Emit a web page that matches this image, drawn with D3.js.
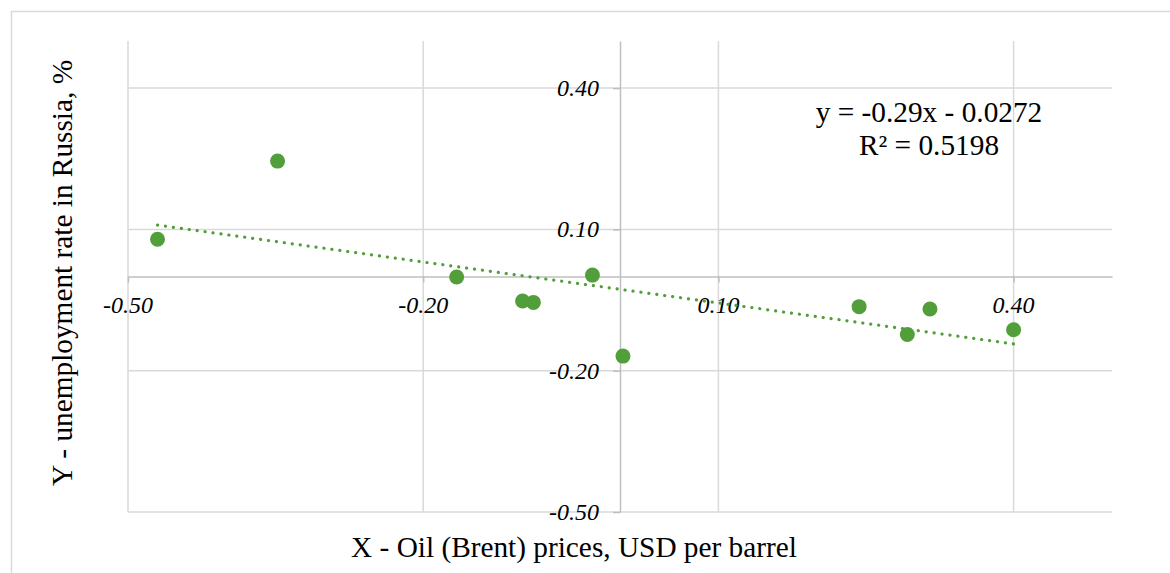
<!DOCTYPE html>
<html>
<head>
<meta charset="utf-8">
<script src="https://cdn.jsdelivr.net/npm/d3@7"></script>
<style>
  html, body { margin: 0; padding: 0; background: #ffffff; }
  svg { display: block; }
</style>
</head>
<body>
<svg id="chart" width="1170" height="573"></svg>
<script>
// Oil price change (x) vs unemployment change (y), one point per year
const oilChange = [-0.470, -0.348, -0.166, -0.099, -0.088, -0.028, 0.003, 0.243, 0.292, 0.315, 0.400];
const unempChange = [0.079, 0.245, -0.001, -0.052, -0.055, 0.003, -0.169, -0.064, -0.123, -0.069, -0.113];

// Linear trend shown on the chart
const trendSlope = -0.29;
const trendIntercept = -0.0272;
const trendR2 = 0.5198;

const xTicks = [-0.5, -0.2, 0.1, 0.4];
const yTicks = [0.4, 0.1, -0.2, -0.5];

const xTitle = "X - Oil (Brent) prices, USD per barrel";
const yTitle = "Y - unemployment rate in Russia, %";

const serif = '"Liberation Serif"';

const svg = d3.select("#chart");
const W = 1170, H = 573;
const margin = { left: 128, top: 41, right: W - 1112, bottom: H - 512 };
const innerW = W - margin.left - margin.right;
const innerH = H - margin.top - margin.bottom;

const green = "#529e3a";
const gridColor = "#d9d9d9";
const axisColor = "#bfbfbf";

// outer chart frame
svg.append("rect")
  .attr("x", 11.5).attr("y", 11.5)
  .attr("width", 1200).attr("height", 700)
  .attr("fill", "#fff").attr("stroke", "#d9d9d9").attr("stroke-width", 1.5);

const g = svg.append("g").attr("transform", `translate(${margin.left},${margin.top})`);

const x = d3.scaleLinear().domain([-0.5, 0.5]).range([0, innerW]);
const y = d3.scaleLinear().domain([-0.5, 0.5]).range([innerH, 0]);

// gridlines
g.append("g").attr("class", "vgrid")
  .selectAll("line").data(xTicks).join("line")
  .attr("x1", d => x(d)).attr("x2", d => x(d))
  .attr("y1", 0).attr("y2", innerH)
  .attr("stroke", gridColor).attr("stroke-width", 1.5);

g.append("g").attr("class", "hgrid")
  .selectAll("line").data(yTicks).join("line")
  .attr("x1", 0).attr("x2", innerW)
  .attr("y1", d => y(d)).attr("y2", d => y(d))
  .attr("stroke", gridColor).attr("stroke-width", 1.5);

// horizontal axis crossing at y = 0
const xAxis = d3.axisBottom(x).tickValues(xTicks).tickSize(6).tickSizeOuter(0).tickFormat(() => "");
const xAxisG = g.append("g").attr("transform", `translate(0,${y(0)})`).call(xAxis);
xAxisG.select(".domain").attr("stroke", axisColor).attr("stroke-width", 1.5);
xAxisG.selectAll(".tick line").attr("stroke", axisColor).attr("stroke-width", 1.5);

// vertical axis crossing at x = 0
const yAxis = d3.axisLeft(y).tickValues(yTicks).tickSize(7).tickSizeOuter(0).tickFormat(() => "");
const yAxisG = g.append("g").attr("transform", `translate(${x(0)},0)`).call(yAxis);
yAxisG.select(".domain").attr("stroke", axisColor).attr("stroke-width", 1.5);
yAxisG.selectAll(".tick line").attr("stroke", axisColor).attr("stroke-width", 1.5);

// tick labels
const fmt = d3.format(".2f");
const num = d => fmt(d).replace("\u2212", "-");
g.append("g").selectAll("text").data(xTicks).join("text")
  .attr("x", d => x(d)).attr("y", y(0) + 36)
  .attr("text-anchor", "middle")
  .style("font-family", serif)
  .style("font-style", "italic").style("font-size", "24px")
  .text(num);

g.append("g").selectAll("text").data(yTicks).join("text")
  .attr("x", x(0) - 21).attr("y", d => y(d) + 8)
  .attr("text-anchor", "end")
  .style("font-family", serif)
  .style("font-style", "italic").style("font-size", "24px")
  .text(num);

// trend line across the data range
const xExt = d3.extent(oilChange);
const trendPts = xExt.map(v => [v, trendSlope * v + trendIntercept]);
g.append("path")
  .datum(trendPts)
  .attr("d", d3.line().x(d => x(d[0])).y(d => y(d[1])))
  .attr("fill", "none")
  .attr("stroke", green).attr("stroke-width", 3.2)
  .attr("stroke-linecap", "round")
  .attr("stroke-dasharray", "0.1 7.9");

// data points
g.append("g").selectAll("circle").data(oilChange.map((v, i) => [v, unempChange[i]])).join("circle")
  .attr("cx", d => x(d[0])).attr("cy", d => y(d[1]))
  .attr("r", 7.5)
  .attr("fill", green);

// trend equation
const eq = svg.append("text")
  .style("font-family", serif)
  .attr("text-anchor", "middle").style("font-size", "29.3px");
eq.append("tspan").attr("x", 929).attr("y", 122)
  .text(`y = ${trendSlope}x - ${Math.abs(trendIntercept)}`);
eq.append("tspan").attr("x", 929).attr("y", 155)
  .text(`R² = ${trendR2}`);

// axis titles
svg.append("text")
  .attr("x", 574).attr("y", 557)
  .style("font-family", serif)
  .attr("text-anchor", "middle").style("font-size", "29.3px")
  .text(xTitle);

svg.append("text")
  .attr("transform", "translate(72,273) rotate(-90)")
  .style("font-family", serif)
  .attr("text-anchor", "middle").style("font-size", "29.3px")
  .text(yTitle);
</script>
</body>
</html>
